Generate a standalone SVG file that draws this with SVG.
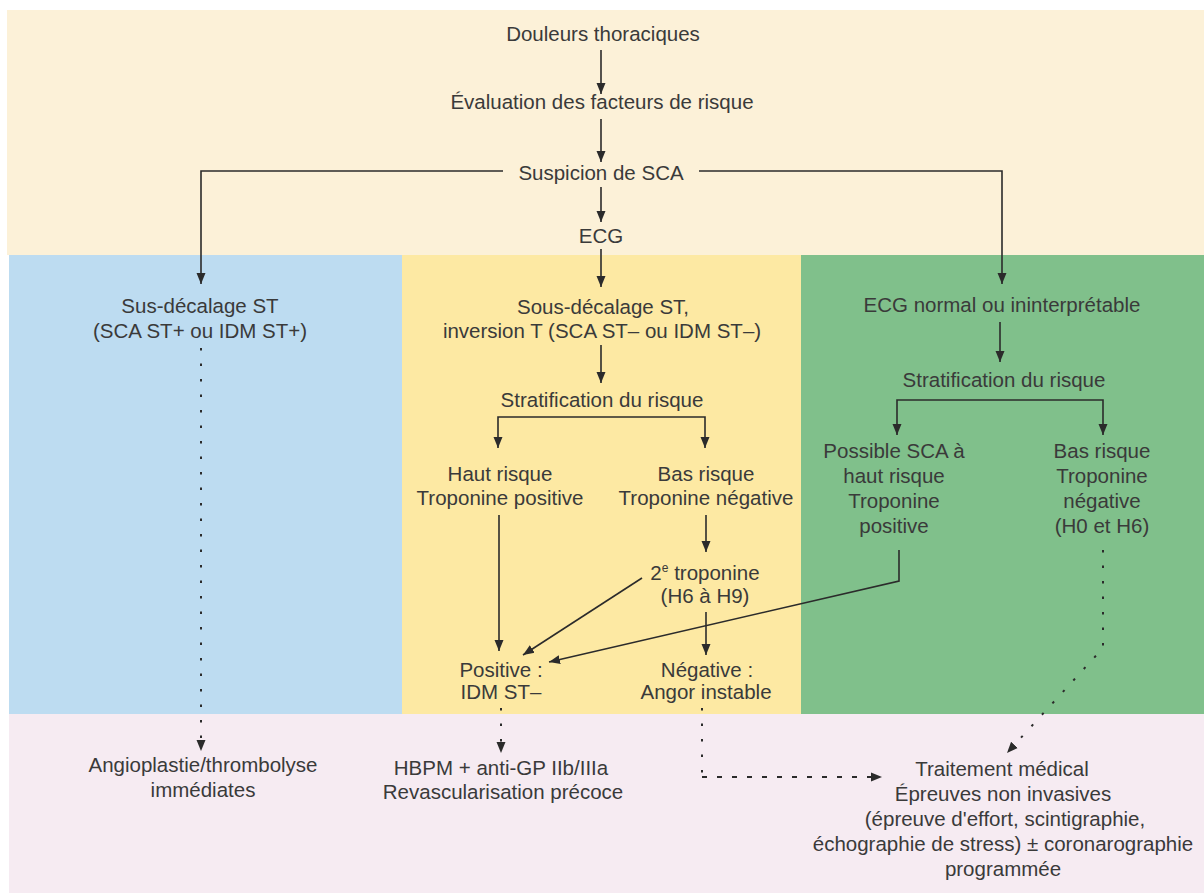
<svg xmlns="http://www.w3.org/2000/svg" width="1204" height="895" viewBox="0 0 1204 895">
<style>
text{font-family:"Liberation Sans",Arial,sans-serif;font-size:20.5px;fill:#3a3a3a;text-anchor:middle}
.ln{fill:none;stroke:#2b2b2b;stroke-width:1.6}
.dot{fill:none;stroke:#2b2b2b;stroke-width:2;stroke-dasharray:2.5 13}
.dash{fill:none;stroke:#2b2b2b;stroke-width:1.8;stroke-dasharray:5 10}
.sup{font-size:12px}
</style>
<defs>
<marker id="ah" markerUnits="userSpaceOnUse" markerWidth="12" markerHeight="12" viewBox="0 0 12 12" refX="11" refY="6" orient="auto">
<path d="M0,1.5 L11,6 L0,10.5 Z" fill="#2b2b2b"/>
</marker>
</defs>
<rect width="1204" height="895" fill="#ffffff"/>
<g id="bands">
<rect x="7" y="10" width="1197" height="245" fill="#fcf1d8"/>
<rect x="9" y="255" width="393" height="459" fill="#bddcf1"/>
<rect x="402" y="255" width="399" height="459" fill="#fde9a3"/>
<rect x="801" y="255" width="403" height="459" fill="#80c08b"/>
<rect x="9" y="714" width="1195" height="179" fill="#f6ebf2"/>
</g>
<g id="connectors">
<path class="ln" d="M601,50 V94" marker-end="url(#ah)"/>
<path class="ln" d="M601,119 V162" marker-end="url(#ah)"/>
<path class="ln" d="M503,171 H201 V284" marker-end="url(#ah)"/>
<path class="ln" d="M699,171 H1002 V284" marker-end="url(#ah)"/>
<path class="ln" d="M601,187 V222" marker-end="url(#ah)"/>
<path class="ln" d="M601,249 V287" marker-end="url(#ah)"/>
<path class="ln" d="M601,345 V383" marker-end="url(#ah)"/>
<path class="ln" d="M601,417 H498 V448" marker-end="url(#ah)"/>
<path class="ln" d="M601,417 H705 V448" marker-end="url(#ah)"/>
<path class="ln" d="M499,515 V651" marker-end="url(#ah)"/>
<path class="ln" d="M706,515 V552" marker-end="url(#ah)"/>
<path class="ln" d="M642,578 L523,655" marker-end="url(#ah)"/>
<path class="ln" d="M706,612 V655" marker-end="url(#ah)"/>
<path class="ln" d="M899,550 V581 L549,662" marker-end="url(#ah)"/>
<path class="ln" d="M1000,322 V362" marker-end="url(#ah)"/>
<path class="ln" d="M1000,400 H897 V435" marker-end="url(#ah)"/>
<path class="ln" d="M1000,400 H1103 V435" marker-end="url(#ah)"/>
<path class="dot" d="M201,348 V751" marker-end="url(#ah)"/>
<path class="dot" d="M501,708 V753" marker-end="url(#ah)"/>
<path class="dot" d="M702,708 V777"/>
<path class="dash" d="M702,777 H882" marker-end="url(#ah)"/>
<path class="dot" d="M1103,550 V648 L1007,753" marker-end="url(#ah)"/>
</g>
<g id="n-douleurs"><text x="603" y="41">Douleurs thoraciques</text></g>
<g id="n-evaluation"><text x="602" y="109">Évaluation des facteurs de risque</text></g>
<g id="n-suspicion"><text x="601" y="180">Suspicion de SCA</text></g>
<g id="n-ecg"><text x="601" y="243">ECG</text></g>
<g id="n-sus"><text x="200" y="313">Sus-décalage ST</text><text x="200" y="338">(SCA ST+ ou IDM ST+)</text></g>
<g id="n-sous"><text x="603" y="314">Sous-décalage ST,</text><text x="602" y="338">inversion T (SCA ST– ou IDM ST–)</text></g>
<g id="n-strat1"><text x="602" y="407">Stratification du risque</text></g>
<g id="n-haut"><text x="500" y="481">Haut risque</text><text x="500" y="505">Troponine positive</text></g>
<g id="n-bas"><text x="706" y="481">Bas risque</text><text x="706" y="505">Troponine négative</text></g>
<g id="n-2tropo"><text x="705" y="580">2<tspan class="sup" dy="-8">e</tspan><tspan dy="8"> troponine</tspan></text><text x="705" y="603">(H6 à H9)</text></g>
<g id="n-positive"><text x="501" y="677">Positive :</text><text x="501" y="699">IDM ST–</text></g>
<g id="n-negative"><text x="707" y="677">Négative :</text><text x="706" y="699">Angor instable</text></g>
<g id="n-ecgnormal"><text x="1002" y="312">ECG normal ou ininterprétable</text></g>
<g id="n-strat2"><text x="1004" y="387">Stratification du risque</text></g>
<g id="n-possible"><text x="894" y="458">Possible SCA à</text><text x="894" y="483">haut risque</text><text x="894" y="508">Troponine</text><text x="894" y="533">positive</text></g>
<g id="n-basrisque2"><text x="1102" y="458">Bas risque</text><text x="1102" y="483">Troponine</text><text x="1102" y="508">négative</text><text x="1102" y="533">(H0 et H6)</text></g>
<g id="n-angio"><text x="203" y="772">Angioplastie/thrombolyse</text><text x="203" y="797">immédiates</text></g>
<g id="n-hbpm"><text x="501" y="775">HBPM + anti-GP IIb/IIIa</text><text x="503" y="799">Revascularisation précoce</text></g>
<g id="n-traitement"><text x="1002" y="776">Traitement médical</text><text x="1003" y="801">Épreuves non invasives</text><text x="1005" y="826">(épreuve d'effort, scintigraphie,</text><text x="1003" y="851">échographie de stress) ± coronarographie</text><text x="1003" y="876">programmée</text></g>
</svg>
